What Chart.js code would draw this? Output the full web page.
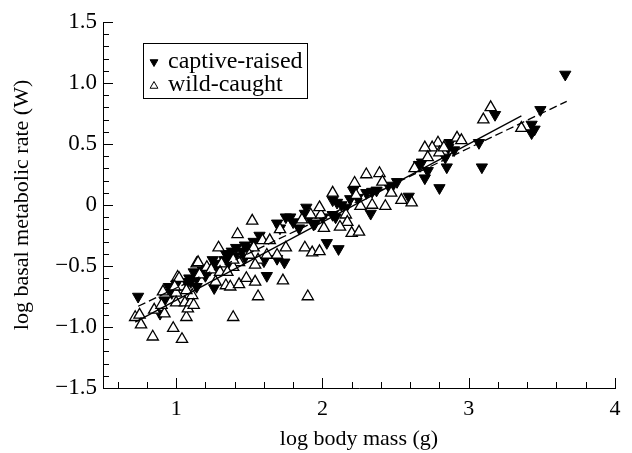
<!DOCTYPE html>
<html lang="en">
<head>
    <meta charset="UTF-8" />
    <title>Basal metabolic rate vs body mass</title>
    <style>
        html, body {
            margin: 0;
            padding: 0;
            background: #ffffff;
        }
        #wrap {
            width: 632px;
            height: 453px;
        }
    </style>
</head>
<body>
    <div id="wrap">
        <canvas id="bmr-chart" width="632" height="453"></canvas>
    </div>

    <script src="https://cdn.jsdelivr.net/npm/chart.js"></script>
    <script>
        // log body mass (g) / log BMR (W)
        const wildMass = [0.72, 0.75, 0.76, 0.84, 0.98, 1.04, 1.07, 0.85, 0.91, 0.92,
            1.01, 1.00, 1.00, 1.06, 1.08, 1.10, 1.11, 1.14, 1.16, 1.04,
            1.21, 1.24, 1.27, 1.31, 1.34, 1.52, 1.42, 1.29, 1.15, 1.73,
            1.37, 1.43, 1.54, 1.59, 1.64, 1.53, 1.56, 1.62, 1.69, 1.50,
            1.75, 1.43, 1.39, 1.30, 1.39, 1.35, 1.48, 1.56, 1.90, 1.39,
            1.54, 1.02, 0.99, 1.07, 1.12, 0.90, 1.71, 1.86, 1.92, 1.99,
            2.01, 1.98, 2.07, 2.22, 2.30, 2.23, 2.26, 2.16, 2.17, 2.12,
            2.20, 2.25, 1.88, 1.93, 1.98, 2.34, 2.43, 2.54, 2.61, 2.39,
            2.41, 2.47, 2.92, 2.95, 2.79, 2.75, 2.70, 2.80, 2.83, 2.72,
            2.63, 3.15, 3.10, 3.36];
        const wildRate = [-0.92, -0.90, -0.98, -1.08, -1.01, -1.10, -0.92, -0.86, -0.71, -0.89,
            -0.59, -0.72, -0.80, -0.80, -0.85, -0.80, -0.74, -0.48, -0.57, -0.67,
            -0.51, -0.53, -0.63, -0.48, -0.66, -0.13, -0.24, -0.35, -0.47, -0.62,
            -0.67, -0.65, -0.63, -0.29, -0.29, -0.35, -0.45, -0.41, -0.41, -0.41,
            -0.35, -0.47, -0.51, -0.55, -0.45, -0.55, -0.60, -0.75, -0.75, -0.92,
            -0.49, -0.60, -0.67, -0.70, -0.82, -0.82, -0.20, -0.12, -0.08, -0.08,
            -0.19, -0.02, 0.10, 0.18, 0.25, 0.08, -0.01, -0.08, -0.14, -0.18,
            -0.23, -0.22, -0.35, -0.39, -0.38, 0.00, -0.01, 0.04, 0.02, 0.26,
            0.19, 0.10, 0.55, 0.53, 0.51, 0.47, 0.47, 0.43, 0.47, 0.39,
            0.30, 0.80, 0.70, 0.63];

        const captiveMass = [0.74, 0.89, 0.92, 0.95, 1.07, 1.10, 1.14, 1.26, 1.28, 1.71,
            1.75, 1.74, 1.62, 1.47, 1.41, 2.21, 2.07, 2.10, 2.24, 2.30,
            2.16, 2.09, 2.07, 1.89, 1.88, 1.91, 1.95, 1.80, 1.84, 1.69,
            2.87, 2.90, 2.84, 2.85, 2.68, 2.66, 2.70, 2.80, 2.51, 2.48,
            2.34, 2.59, 2.37, 2.46, 3.66, 3.18, 3.49, 3.43, 3.45, 3.43,
            3.07, 3.09, 2.03, 2.11, 2.33, 1.69, 1.94, 1.34, 1.38, 1.18,
            1.23, 1.30, 1.36, 1.09, 1.33, 1.40, 1.45, 1.47, 1.37, 1.20,
            1.14, 1.25, 1.49, 1.78, 2.13, 2.19, 2.00, 1.53, 1.57, 2.86,
            2.72, 1.00, 1.03, 1.12, 0.97, 1.60];
        const captiveRate = [-0.75, -0.89, -0.78, -0.67, -0.64, -0.63, -0.67, -0.68, -0.49, -0.19,
            -0.10, -0.47, -0.58, -0.33, -0.35, 0.12, 0.04, 0.02, 0.06, 0.10,
            -0.02, -0.10, -0.08, -0.02, -0.07, -0.10, -0.15, -0.14, -0.19, -0.15,
            0.51, 0.45, 0.39, 0.31, 0.35, 0.33, 0.22, 0.14, 0.19, 0.16,
            0.11, 0.07, 0.12, 0.14, 1.07, 0.74, 0.78, 0.66, 0.62, 0.59,
            0.51, 0.31, -0.31, -0.36, -0.07, -0.44, -0.16, -0.40, -0.38, -0.53,
            -0.53, -0.48, -0.43, -0.60, -0.45, -0.42, -0.38, -0.43, -0.50, -0.58,
            -0.60, -0.45, -0.35, -0.10, 0.00, 0.05, -0.10, -0.30, -0.25, 0.47,
            0.28, -0.65, -0.63, -0.55, -0.72, -0.46];

        // fitted lines (end points)
        const solidFitMass = [0.72, 3.36];
        const solidFitRate = [-0.96, 0.73];
        const dashFitMass = [0.74, 3.67];
        const dashFitRate = [-0.83, 0.85];

        const xTickValues = [1, 2, 3, 4];
        const xTickLabels = ['1', '2', '3', '4'];
        const yTickValues = [-1.5, -1.0, -0.5, 0, 0.5, 1.0, 1.5];
        const yTickLabels = ['\u22121.5', '\u22121.0', '\u22120.5', '0', '0.5', '1.0', '1.5'];

        const seriesNames = ['captive-raised', 'wild-caught'];

        const toPoints = (xs, ys) => xs.map((x, i) => ({ x: x, y: ys[i] }));

        const serif = 'Liberation Serif, Times New Roman, serif';

        // inward ticks, major + minor
        const tickPlugin = {
            id: 'inwardTicks',
            afterDraw(chart) {
                const ctx = chart.ctx;
                const xs = chart.scales.x, ys = chart.scales.y;
                const a = chart.chartArea;
                ctx.save();
                ctx.strokeStyle = '#000';
                ctx.lineWidth = 1;
                ctx.beginPath();
                for (let i = 6; i <= 40; i += 2) {
                    const v = i / 10;
                    const px = Math.round(xs.getPixelForValue(v)) + 0.5;
                    const len = (i % 10 === 0) ? 10 : 6;
                    ctx.moveTo(px, a.bottom);
                    ctx.lineTo(px, a.bottom - len);
                }
                for (let i = -15; i <= 15; i++) {
                    const v = i / 10;
                    const py = Math.round(ys.getPixelForValue(v)) + 0.5;
                    const len = (i % 5 === 0) ? 10 : 6;
                    ctx.moveTo(a.left, py);
                    ctx.lineTo(a.left + len, py);
                }
                ctx.stroke();
                ctx.restore();
            }
        };

        const legendPlugin = {
            id: 'boxLegend',
            afterDraw(chart) {
                const ctx = chart.ctx;
                const a = chart.chartArea;
                const bx = a.left + 40, by = a.top + 21, bw = 164, bh = 55;
                ctx.save();
                ctx.fillStyle = '#fff';
                ctx.fillRect(bx, by, bw, bh);
                ctx.strokeStyle = '#000';
                ctx.lineWidth = 1;
                ctx.strokeRect(bx + 0.5, by + 0.5, bw, bh);

                ctx.fillStyle = '#000';
                ctx.strokeStyle = '#000';
                Chart.helpers.drawPoint(ctx, { pointStyle: 'triangle', radius: 4.5, rotation: 180, borderWidth: 1 }, bx + 11, by + 19);
                ctx.fillStyle = '#fff';
                Chart.helpers.drawPoint(ctx, { pointStyle: 'triangle', radius: 4.5, rotation: 0, borderWidth: 1 }, bx + 11, by + 43);

                ctx.fillStyle = '#000';
                ctx.font = '24px ' + serif;
                ctx.textBaseline = 'middle';
                ctx.textAlign = 'left';
                ctx.fillText(seriesNames[0], bx + 25, by + 19);
                ctx.fillText(seriesNames[1], bx + 25, by + 42);
                ctx.restore();
            }
        };

        const ctx = document.getElementById('bmr-chart').getContext('2d');
        new Chart(ctx, {
            type: 'scatter',
            data: {
                datasets: [
                    {
                        label: 'fit solid',
                        type: 'line',
                        data: toPoints(solidFitMass, solidFitRate),
                        borderColor: '#000',
                        borderWidth: 1.3,
                        pointRadius: 0,
                        showLine: true,
                        fill: false,
                        order: 0
                    },
                    {
                        label: 'fit dashed',
                        type: 'line',
                        data: toPoints(dashFitMass, dashFitRate),
                        borderColor: '#000',
                        borderWidth: 1.3,
                        borderDash: [8, 4],
                        pointRadius: 0,
                        showLine: true,
                        fill: false,
                        order: 0
                    },
                    {
                        label: seriesNames[1],
                        data: toPoints(wildMass, wildRate),
                        pointStyle: 'triangle',
                        pointRadius: 6.5,
                        pointBackgroundColor: '#fff',
                        pointBorderColor: '#000',
                        pointBorderWidth: 1.3,
                        order: 1
                    },
                    {
                        label: seriesNames[0],
                        data: toPoints(captiveMass, captiveRate),
                        pointStyle: 'triangle',
                        pointRotation: 180,
                        pointRadius: 6.5,
                        pointBackgroundColor: '#000',
                        pointBorderColor: '#000',
                        pointBorderWidth: 1,
                        order: 2
                    }
                ]
            },
            options: {
                responsive: false,
                animation: false,
                layout: { padding: { top: 22, right: 17, left: 0, bottom: 0 } },
                plugins: {
                    legend: { display: false },
                    tooltip: { enabled: false }
                },
                scales: {
                    x: {
                        type: 'linear',
                        min: 0.5,
                        max: 4,
                        afterBuildTicks: (s) => { s.ticks = xTickValues.map(v => ({ value: v })); },
                        afterFit: (s) => { s.height = 65; },
                        grid: { display: false, drawTicks: false },
                        border: { display: true, color: '#000', width: 1 },
                        ticks: {
                            color: '#000',
                            padding: 8,
                            font: { family: serif, size: 22 },
                            maxRotation: 0,
                            callback: (v) => xTickLabels[xTickValues.indexOf(v)]
                        },
                        title: {
                            display: true,
                            text: 'log body mass (g)',
                            color: '#000',
                            font: { family: serif, size: 22 },
                            padding: { top: 0, bottom: 1 }
                        }
                    },
                    y: {
                        type: 'linear',
                        min: -1.5,
                        max: 1.5,
                        afterBuildTicks: (s) => { s.ticks = yTickValues.map(v => ({ value: v })); },
                        afterFit: (s) => { s.width = 103; },
                        grid: { display: false, drawTicks: false },
                        border: { display: true, color: '#000', width: 1 },
                        ticks: {
                            color: '#000',
                            padding: 6,
                            font: { family: serif, size: 23 },
                            callback: (v) => yTickLabels[yTickValues.indexOf(v)]
                        },
                        title: {
                            display: true,
                            text: 'log basal metabolic rate (W)',
                            color: '#000',
                            font: { family: serif, size: 22 },
                            padding: { top: 9, bottom: 0 }
                        }
                    }
                }
            },
            plugins: [tickPlugin, legendPlugin]
        });
    </script>
</body>
</html>
